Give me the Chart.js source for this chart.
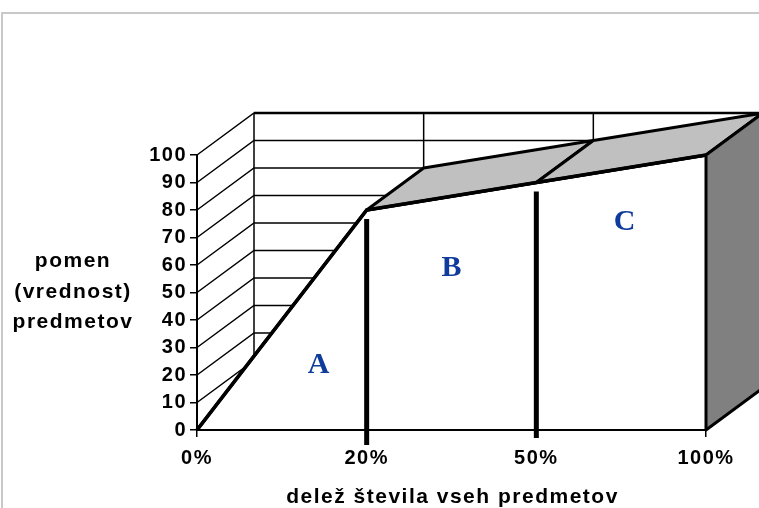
<!DOCTYPE html>
<html>
<head>
<meta charset="utf-8">
<script src="https://cdn.jsdelivr.net/npm/chart.js@4"></script>
<style>
  html, body { margin: 0; padding: 0; background: #ffffff; }
  #wrap { width: 759px; height: 508px; position: relative; }
</style>
</head>
<body>
<div id="wrap"><canvas id="c" width="759" height="508"></canvas></div>
<script>
// ---- data ----
const categories = ['0%', '20%', '50%', '100%'];
const values = [0, 80, 90, 100];
const regionLabels = ['A', 'B', 'C'];
const yTickValues = [0, 10, 20, 30, 40, 50, 60, 70, 80, 90, 100];
const yTitleLines = ['pomen', '(vrednost)', 'predmetov'];
const xTitle = 'delež števila vseh predmetov';

// ---- style / layout constants ----
const DEPTH_X = 57, DEPTH_Y = -42;
const FONT_FAMILY = "'Liberation Sans', Arial, sans-serif";
const LETTER_COLOR = '#0f3c9c';

const depthPlugin = {
  id: 'depth3d',
  beforeDraw(chart) {
    chart.ctx.letterSpacing = '1.5px';
  },
  beforeDatasetsDraw(chart) {
    const ctx = chart.ctx;
    const xs = chart.scales.x, ys = chart.scales.y;
    const x0 = xs.getPixelForValue(0);
    const xN = xs.getPixelForValue(categories.length - 1);
    ctx.save();
    ctx.strokeStyle = '#000';
    ctx.lineWidth = 1.5;
    // left wall diagonals + back wall horizontal grid
    yTickValues.forEach(v => {
      const yp = ys.getPixelForValue(v);
      ctx.beginPath();
      ctx.moveTo(x0, yp);
      ctx.lineTo(x0 + DEPTH_X, yp + DEPTH_Y);
      ctx.lineTo(xN + DEPTH_X, yp + DEPTH_Y);
      ctx.stroke();
    });
    // back wall verticals
    const yTop = ys.getPixelForValue(ys.max);
    const yBot = ys.getPixelForValue(ys.min);
    categories.forEach((c, i) => {
      const xp = xs.getPixelForValue(i) + DEPTH_X;
      ctx.beginPath();
      ctx.moveTo(xp, yTop + DEPTH_Y);
      ctx.lineTo(xp, yBot + DEPTH_Y);
      ctx.stroke();
    });
    // back top edge thicker
    ctx.lineWidth = 2.5;
    ctx.beginPath();
    ctx.moveTo(x0 + DEPTH_X, yTop + DEPTH_Y);
    ctx.lineTo(xN + DEPTH_X + 5, yTop + DEPTH_Y);
    ctx.stroke();
    ctx.restore();
  },
  afterDatasetsDraw(chart) {
    const ctx = chart.ctx;
    const xs = chart.scales.x, ys = chart.scales.y;
    const pts = values.map((v, i) => ({ x: xs.getPixelForValue(i), y: ys.getPixelForValue(v) }));
    const y0 = ys.getPixelForValue(0);
    ctx.save();
    ctx.lineJoin = 'round';
    // top faces (only those facing upward)
    for (let i = 0; i < pts.length - 1; i++) {
      const a = pts[i], b = pts[i + 1];
      const sx = b.x - a.x, sy = b.y - a.y;
      const cross = sx * DEPTH_Y - sy * DEPTH_X;
      if (cross >= 0) continue;
      ctx.beginPath();
      ctx.moveTo(a.x, a.y);
      ctx.lineTo(b.x, b.y);
      ctx.lineTo(b.x + DEPTH_X, b.y + DEPTH_Y);
      ctx.lineTo(a.x + DEPTH_X, a.y + DEPTH_Y);
      ctx.closePath();
      ctx.fillStyle = '#c0c0c0';
      ctx.fill();
      ctx.strokeStyle = '#000';
      ctx.lineWidth = 3;
      ctx.stroke();
    }
    // right side face
    const last = pts[pts.length - 1];
    ctx.beginPath();
    ctx.moveTo(last.x, last.y);
    ctx.lineTo(last.x + DEPTH_X, last.y + DEPTH_Y);
    ctx.lineTo(last.x + DEPTH_X, y0 + DEPTH_Y);
    ctx.lineTo(last.x, y0);
    ctx.closePath();
    ctx.fillStyle = '#808080';
    ctx.fill();
    ctx.strokeStyle = '#000';
    ctx.lineWidth = 3;
    ctx.stroke();
    // redraw front line
    ctx.beginPath();
    pts.forEach((p, i) => i ? ctx.lineTo(p.x, p.y) : ctx.moveTo(p.x, p.y));
    ctx.lineWidth = 3.5;
    ctx.stroke();
    // front axes
    ctx.lineWidth = 2;
    ctx.beginPath();
    ctx.moveTo(xs.left, ys.getPixelForValue(ys.max));
    ctx.lineTo(xs.left, y0);
    ctx.lineTo(xs.right, y0);
    ctx.stroke();
    // thick separators at inner categories
    const dropExtra = [0, 15, 8, 0];
    ctx.lineWidth = 5;
    ctx.lineCap = 'butt';
    for (let i = 1; i < pts.length - 1; i++) {
      ctx.beginPath();
      ctx.moveTo(pts[i].x, pts[i].y + 9);
      ctx.lineTo(pts[i].x, y0 + dropExtra[i]);
      ctx.stroke();
    }
    // region letters
    const letterPos = [[0.716, 23.5], [1.5, 59], [2.52, 75.5]];
    ctx.fillStyle = LETTER_COLOR;
    ctx.font = "bold 30px 'Liberation Serif', 'Times New Roman', serif";
    ctx.letterSpacing = '0px';
    ctx.textAlign = 'center';
    ctx.textBaseline = 'middle';
    regionLabels.forEach((t, i) => {
      const fi = letterPos[i][0];
      const base = Math.floor(fi);
      const xp = xs.getPixelForValue(base) + (xs.getPixelForValue(base + 1) - xs.getPixelForValue(base)) * (fi - base);
      ctx.fillText(t, xp, ys.getPixelForValue(letterPos[i][1]));
    });
    // axis titles
    ctx.fillStyle = '#000';
    ctx.font = 'bold 21px ' + FONT_FAMILY;
    ctx.letterSpacing = '1.5px';
    ctx.textBaseline = 'alphabetic';
    ctx.textAlign = 'center';
    const yBases = [267, 298, 328];
    yTitleLines.forEach((t, i) => ctx.fillText(t, 73, yBases[i]));
    ctx.fillText(xTitle, (xs.left + xs.right) / 2 + 1, 503);
    // outer frame
    ctx.strokeStyle = '#c8c8c8';
    ctx.lineWidth = 2;
    ctx.strokeRect(2, 13, 900, 700);
    ctx.restore();
  }
};

new Chart(document.getElementById('c'), {
  type: 'line',
  data: {
    labels: categories,
    datasets: [{
      data: values,
      fill: 'origin',
      backgroundColor: '#ffffff',
      borderColor: '#000000',
      borderWidth: 3.5,
      pointRadius: 0,
      tension: 0,
      clip: false
    }]
  },
  options: {
    responsive: false,
    animation: false,
    events: [],
    layout: { padding: { left: 0, top: 155, right: 53, bottom: 0 } },
    plugins: { legend: { display: false }, tooltip: { enabled: false }, title: { display: false } },
    scales: {
      x: {
        type: 'category',
        offset: false,
        afterFit(s) { s.height = 78; },
        grid: { display: true, drawOnChartArea: false, tickLength: 7, color: '#000', lineWidth: 1.5 },
        border: { display: true, color: '#000', width: 2 },
        ticks: { color: '#000', padding: 9, autoSkip: false, maxRotation: 0,
                 font: { family: FONT_FAMILY, size: 20, weight: 'bold' } }
      },
      y: {
        min: 0, max: 100,
        afterFit(s) { s.width = 197; },
        afterBuildTicks(s) { s.ticks = yTickValues.map(v => ({ value: v })); },
        grid: { display: true, drawOnChartArea: false, tickLength: 7, color: '#000', lineWidth: 1.5 },
        border: { display: true, color: '#000', width: 2 },
        ticks: { color: '#000', padding: 3,
                 font: { family: FONT_FAMILY, size: 20, weight: 'bold' } }
      }
    }
  },
  plugins: [depthPlugin]
});
</script>
</body>
</html>
